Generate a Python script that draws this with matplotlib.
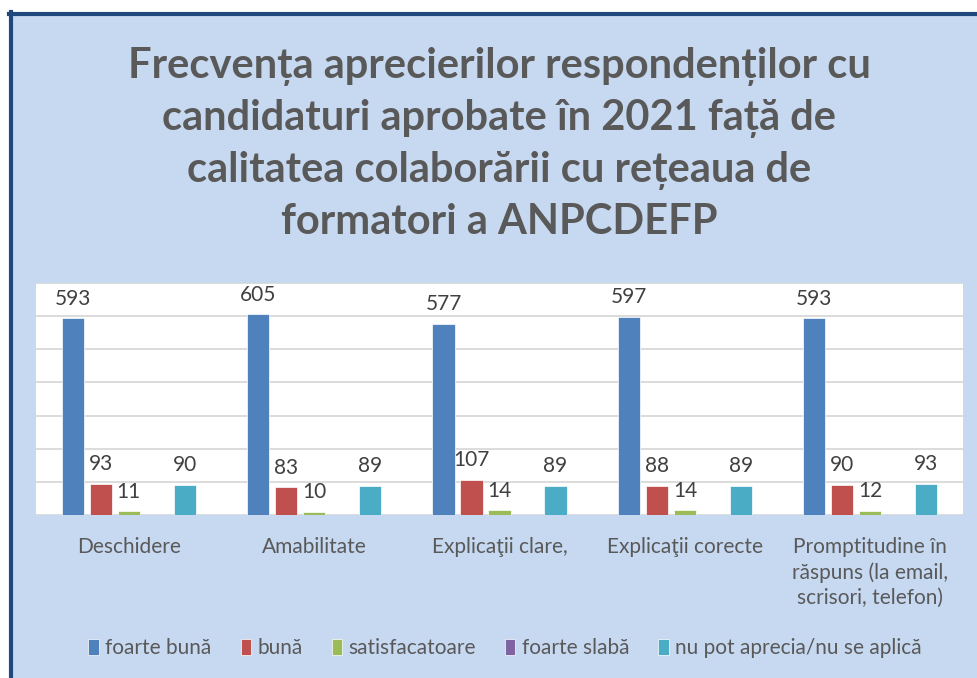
import matplotlib
matplotlib.use("Agg")
import matplotlib.pyplot as plt
from matplotlib.patches import Rectangle
from matplotlib.lines import Line2D
import numpy as np

categories = ["Deschidere", "Amabilitate", "Explicaţii clare,", "Explicaţii corecte",
              "Promptitudine în\nrăspuns (la email,\nscrisori, telefon)"]
series_names = ["foarte bună", "bună", "satisfacatoare", "foarte slabă", "nu pot aprecia/nu se aplică"]
foarte_buna = [593, 605, 577, 597, 593]
buna = [93, 83, 107, 88, 90]
satisfacatoare = [11, 10, 14, 14, 12]
foarte_slaba = [0, 0, 0, 0, 0]
nu_pot = [90, 89, 89, 89, 93]
series_values = [foarte_buna, buna, satisfacatoare, foarte_slaba, nu_pot]
colors = ["#4F81BD", "#C0504D", "#9BBB59", "#8064A2", "#4BACC6"]
title = "Frecvența aprecierilor respondenților cu\ncandidaturi aprobate în 2021 față de\ncalitatea colaborării cu rețeaua de\nformatori a ANPCDEFP"

plt.rcParams['font.family'] = ['Lato', 'DejaVu Sans']

W, H = 978, 678
fig = plt.figure(figsize=(W / 100, H / 100), dpi=100, facecolor="white")

# background panel with dark blue border on left and top
fig.patches.append(Rectangle((11 / W, 0), 1 - 11 / W, 1 - 14 / H, transform=fig.transFigure,
                             facecolor="#C6D9F1", edgecolor="none", zorder=-5))
fig.lines.append(Line2D([11 / W, 11 / W], [0, 1 - 12 / H], transform=fig.transFigure,
                        color="#1F497D", linewidth=3, zorder=-4))
fig.lines.append(Line2D([9 / W, 1], [1 - 13.5 / H, 1 - 13.5 / H], transform=fig.transFigure,
                        color="#1F497D", linewidth=3, zorder=-4))

ax = fig.add_axes([36 / W, 1 - 515 / H, (963 - 36) / W, (515 - 283) / H])
ax.set_zorder(2)
ax.set_facecolor("white")

n = len(series_names)
x = np.arange(len(categories))
step = 0.151
width = 0.119
for i, (name, vals, c) in enumerate(zip(series_names, series_values, colors)):
    pos = x + (i - (n - 1) / 2) * step
    ax.bar(pos, vals, width=width, color=c, label=name, zorder=3,
           edgecolor="white", linewidth=0.5)
    for p, v in zip(pos, vals):
        if v > 0:
            ax.annotate(str(v), (p, v), xytext=(0, 7), textcoords="offset points",
                        ha="center", va="bottom", fontsize=15, color="#404040")

ax.set_ylim(0, 700)
ax.set_xlim(-0.5, len(categories) - 0.5)
ax.set_yticks(np.arange(0, 701, 100))
ax.yaxis.grid(True, color="#D9D9D9", linewidth=1.3, zorder=0)
ax.tick_params(axis="y", left=False, labelleft=False)
ax.tick_params(axis="x", bottom=False, length=0, pad=16)
ax.set_xticks(x)
ax.set_xticklabels(categories, fontsize=15, color="#595959", va="top", linespacing=1.3)
for s in ax.spines.values():
    s.set_visible(False)

fig.text(499 / W, 1 - 144 / H, title, ha="center", va="center", fontsize=30,
         fontweight="bold", color="#595959", linespacing=1.42)

leg = fig.legend(loc="center", bbox_to_anchor=(505 / W, 1 - 648 / H), ncol=5,
                 frameon=False, fontsize=15, handlelength=0.5, handleheight=0.8,
                 handletextpad=0.3, columnspacing=1.4, labelcolor="#595959")

fig.savefig("out.png", dpi=100, facecolor="white")
